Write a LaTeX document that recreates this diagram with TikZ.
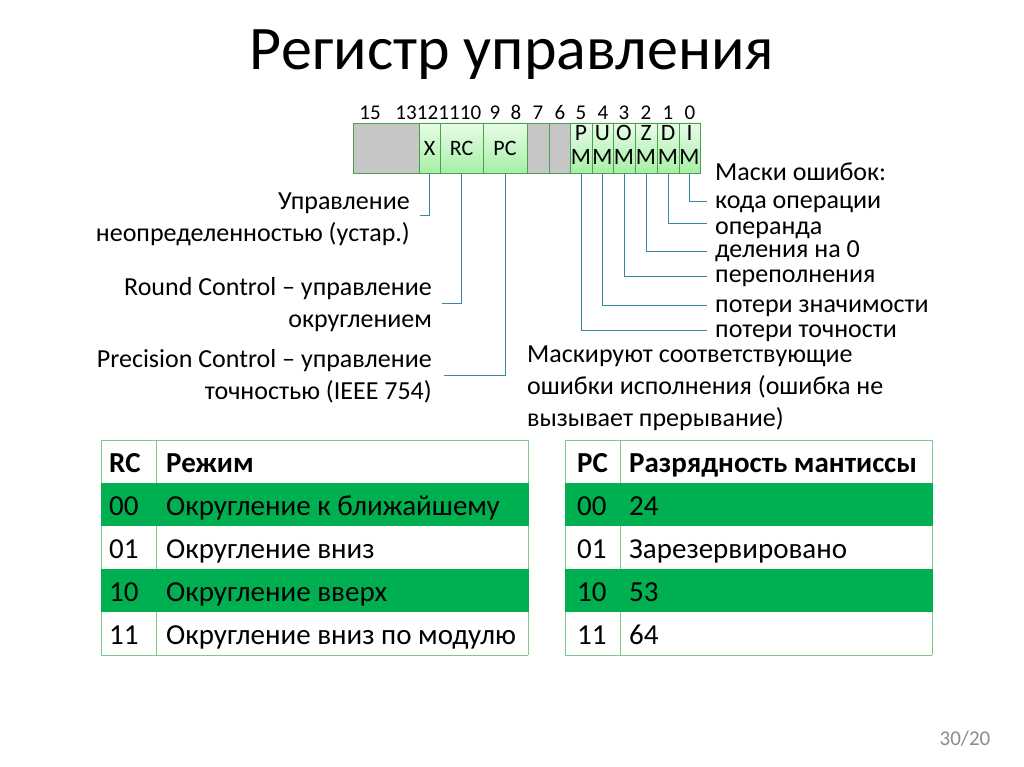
\documentclass[tikz,border=0pt]{standalone}
\usepackage{fontspec}
\setmainfont{Carlito}
\usepackage{tikz}
\usetikzlibrary{positioning,calc}
\definecolor{CellLine}{HTML}{4BA04B}
\definecolor{Grey}{HTML}{C6C6C6}
\definecolor{LightG}{HTML}{E8FCE8}
\definecolor{MidG}{HTML}{A6EFA6}
\definecolor{Lead}{HTML}{3A88A8}
\definecolor{TabGreen}{HTML}{00B050}
\definecolor{TabLine}{HTML}{7CCB8C}
\definecolor{PageGrey}{HTML}{8C8C8C}

\begin{document}
\begin{tikzpicture}[x=1pt,y=-1pt,
  every node/.style={inner sep=0pt,font=\fontsize{26}{32}\selectfont},
  greybit/.style={draw=CellLine,fill=Grey,line width=0.8pt,minimum height=50},
  greenbit/.style={draw=CellLine,top color=LightG,bottom color=MidG,line width=0.8pt,
    minimum height=50,align=center,font=\fontsize{22}{18}\selectfont},
  maskbit/.style={greenbit,font=\fontsize{23.5}{24}\selectfont,text depth=5.6pt},
  bitno/.style={anchor=base,font=\fontsize{21}{22}\selectfont},
  note/.style={anchor=base west},
  lead/.style={draw=Lead,line width=0.9pt},
  tabline/.style={draw=TabLine,line width=0.9pt},
  tabtext/.style={anchor=base west,font=\fontsize{29}{30}\selectfont},
  tabhead/.style={anchor=base west,font=\fontsize{29}{30}\selectfont\bfseries}]
  \fill[white] (0,0) rectangle (1024,767);
  \useasboundingbox (0,0) rectangle (1024,767);

  \node[anchor=base,font=\fontsize{62}{70}\selectfont] (title) at (512,70) {Регистр управления};

  % register cells
  \node[greybit,minimum width=66] (c15) at (386,148) {};
  \node[greenbit,minimum width=21] (cX) at (429.5,148) {X};
  \node[greenbit,minimum width=43] (cRC) at (461.5,148) {RC};
  \node[greenbit,minimum width=44] (cPC) at (505,148) {PC};
  \node[greybit,minimum width=22] (c7) at (538,148) {};
  \node[greybit,minimum width=21] (c6) at (559.5,148) {};
  \foreach \n/\xc/\w in {P/581/22,U/602.5/21,O/624/22,Z/646/22,D/668/22,I/689.5/21}
    \node[maskbit,minimum width=\w] (c\n) at (\xc,148) {\n\\M};

  % bit numbers
  \foreach \b/\xb in {15/370,13/406,12/427.5,11/449,10/470.5,9/495,8/516,7/538,6/560,5/581,4/603,3/624,2/646,1/668,0/690}
    \node[bitno] (n\b) at (\xb,120) {\b};

  % left notes
  \node[anchor=east,align=right] (tUndef) at (410,219) {Управление\\неопределенностью (устар.)};
  \node[anchor=east,align=right] (tRound) at (432,304.5) {Round Control – управление\\округлением};
  \node[anchor=east,align=right] (tPrec) at (432,376.5) {Precision Control – управление\\точностью (IEEE 754)};
  \coordinate (eX) at (420,215);
  \coordinate (eRC) at (442,303);
  \coordinate (ePC) at (444,375);
  \draw[lead] (cX.south) |- (eX);
  \draw[lead] (cRC.south) |- (eRC);
  \draw[lead] (cPC.south) |- (ePC);

  % mask notes
  \node[note] (tMask) at (715,181) {Маски ошибок:};
  \node[note] (tI) at (715,209) {кода операции};
  \node[note] (tD) at (715,234) {операнда};
  \node[note] (tZ) at (715,258) {деления на 0};
  \node[note] (tO) at (715,282) {переполнения};
  \node[note] (tU) at (715,312) {потери значимости};
  \node[note] (tP) at (715,337) {потери точности};
  \foreach \n/\yy in {I/201,D/223,Z/251,O/276,U/305,P/330} {
    \coordinate (e\n) at (707,\yy);
    \draw[lead] (c\n.south) |- (e\n);
  }
  \node[anchor=west,align=left] (tNote) at (527,388) {Маскируют соответствующие\\ошибки исполнения (ошибка не\\вызывает прерывание)};

  % tables
  \draw[tabline] (101,440) -- (528,440) (101,655) -- (528,655)
    (101,440) -- (101,655) (156,440) -- (156,655) (528,440) -- (528,655);
  \draw[tabline] (565,440) -- (932,440) (565,655) -- (932,655)
    (565,440) -- (565,655) (620,440) -- (620,655) (932,440) -- (932,655);
  \fill[TabGreen] (100.5,483) rectangle (528.5,526);
  \fill[TabGreen] (100.5,569) rectangle (528.5,612);
  \fill[TabGreen] (564.5,483) rectangle (932.5,526);
  \fill[TabGreen] (564.5,569) rectangle (932.5,612);

  \node[tabhead] (rcH) at (109,472.5) {RC};
  \node[tabhead] (modeH) at (166,472.5) {Режим};
  \node[tabhead] (pcH) at (577,472.5) {PC};
  \node[tabhead] (bitsH) at (629,472.5) {Разрядность мантиссы};
  \foreach \i/\code/\mode/\bits/\yy in {a/00/Округление к ближайшему/24/515.5,
      b/01/Округление вниз/Зарезервировано/558.5,
      c/10/Округление вверх/53/601.5,
      d/11/Округление вниз по модулю/64/644.5} {
    \node[tabtext] (rc\i) at (109,\yy) {\code};
    \node[tabtext] (mode\i) at (166,\yy) {\mode};
    \node[tabtext] (pc\i) at (577,\yy) {\code};
    \node[tabtext] (bits\i) at (629,\yy) {\bits};
  }

  \node[anchor=base,text=PageGrey,font=\fontsize{21}{24}\selectfont] (pgno) at (965,745) {30/20};
\end{tikzpicture}
\end{document}
